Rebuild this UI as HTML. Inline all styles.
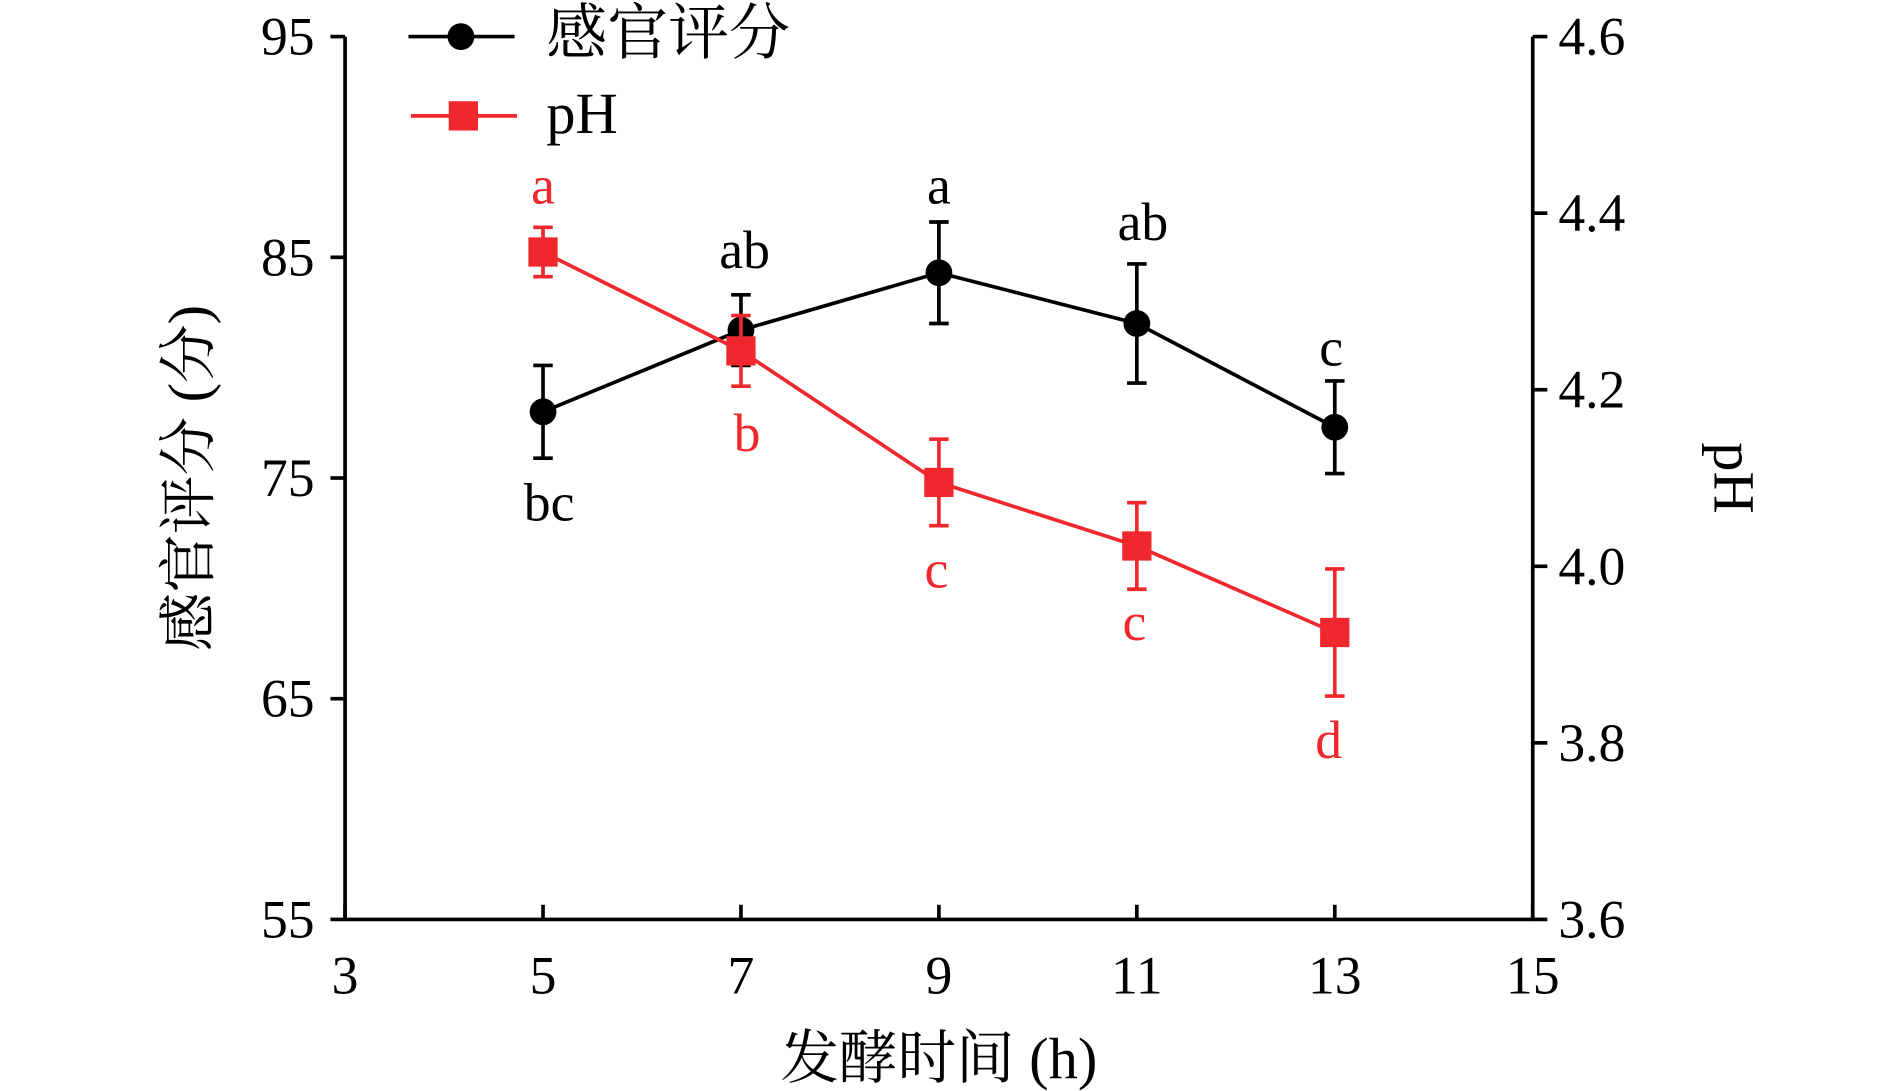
<!DOCTYPE html>
<html><head><meta charset="utf-8"><style>
html,body{margin:0;padding:0;background:#fff;}
svg{display:block;}
text{font-family:"Liberation Serif","Noto Serif CJK SC",serif;}
</style></head><body>
<svg id="chart" width="1890" height="1091" viewBox="0 0 1550 894.7" xmlns="http://www.w3.org/2000/svg"></svg>
<script>
const xCats=[5,7,9,11,13];
const sensory=[78.0,81.7,84.3,82.0,77.3];
const sensoryErr=[2.1,1.6,2.3,2.7,2.1];
const sensoryLetters=["bc","ab","a","ab","c"];
const phVals=[4.356,4.244,4.095,4.023,3.925];
const phErr=[0.028,0.04,0.049,0.049,0.072];
const phLetters=["a","b","c","c","d"];
const xTicks=[3,5,7,9,11,13,15];
const yLeftTicks=[55,65,75,85,95];
const yRightTicks=["3.6","3.8","4.0","4.2","4.4","4.6"];

const L=283,R=1257,T=30,B=754;
const X=v=>L+(v-3)/12*(R-L);
const YL=v=>B-(v-55)/40*(B-T);
const YR=v=>B-(v-3.6)/1.0*(B-T);
const svg=document.getElementById('chart');
const NS='http://www.w3.org/2000/svg';
function mk(tag,attrs,parent){const e=document.createElementNS(NS,tag);for(const k in attrs)e.setAttribute(k,attrs[k]);(parent||svg).appendChild(e);return e;}
function txt(s,x,y,size,fill,anchor,parent){const t=mk('text',{x:x,y:y,'font-size':size,fill:fill,'text-anchor':anchor||'middle','dominant-baseline':'central'},parent);t.textContent=s;return t;}

// axes
let e=mk('path',{d:`M${L},${T}V${B}H${R}V${T}`,fill:'none',stroke:'#000','stroke-width':3});

yLeftTicks.forEach(v=>{const y=YL(v);mk('line',{x1:L-12,x2:L,y1:y,y2:y,stroke:'#000','stroke-width':3});
 const t=txt(String(v),258,y,44,'#000','end');});
yRightTicks.forEach(v=>{const y=YR(parseFloat(v));mk('line',{x1:R,x2:R+12,y1:y,y2:y,stroke:'#000','stroke-width':3});
 const t=txt(v,1278,y,44,'#000','start');});
xTicks.forEach(v=>{const x=X(v);mk('line',{x1:x,x2:x,y1:B-12,y2:B,stroke:'#000','stroke-width':3});
 const t=txt(String(v),x,800,44,'#000');});

// titles
let t=txt('发酵时间 (h)',770,868,48,'#000');
t=txt('感官评分 (分)',0,0,48,'#000');t.setAttribute('transform','translate(155,392) rotate(-90)');
t=txt('pH',0,0,48,'#000');t.setAttribute('transform','translate(1422,392) rotate(90)');

// series
function series(vals,errs,Y,color,name,marker,letters,letterOff){
 const g=mk('g',{});
 const pts=vals.map((v,i)=>[X(xCats[i]),Y(v)]);
 const pl=mk('polyline',{points:pts.map(p=>p.join(',')).join(' '),fill:'none',stroke:color,'stroke-width':3},g);
 
 vals.forEach((v,i)=>{const x=pts[i][0];const y1=Y(v+errs[i]),y2=Y(v-errs[i]);
  const eb=mk('path',{d:`M${x},${y1}V${y2}M${x-8},${y1}H${x+8}M${x-8},${y2}H${x+8}`,stroke:color,'stroke-width':3,fill:'none'},g);
  
  let m;
  if(marker==='circle')m=mk('circle',{cx:x,cy:pts[i][1],r:11,fill:color},g);
  else m=mk('rect',{x:x-12,y:pts[i][1]-12,width:24,height:24,fill:color},g);
  
  const o=letterOff[i];
  const lt=txt(letters[i],x+(o[1]||0),(o[2]==='abs'?o[0]:pts[i][1]+o[0]),44,color,'middle',g);
  
 });
}
series(sensory,sensoryErr,YL,'#000','sensory','circle',sensoryLetters,[[412,5,'abs'],[205,3,'abs'],[152,0,'abs'],[182,5,'abs'],[285,-3,'abs']]);
series(phVals,phErr,YR,'#f0282d','ph','square',phLetters,[[152,0,'abs'],[355,5,'abs'],[467,-2,'abs'],[510,-2,'abs'],[607,-5,'abs']]);

// legend
const lg=mk('g',{});
let le=mk('g',{},lg);
mk('line',{x1:335,x2:422,y1:30,y2:30,stroke:'#000','stroke-width':3},le);
mk('circle',{cx:378,cy:30,r:11,fill:'#000'},le);
txt('感官评分',448,28,50,'#000','start',le);
le=mk('g',{},lg);
mk('line',{x1:337,x2:424,y1:95,y2:95,stroke:'#f0282d','stroke-width':3},le);
mk('rect',{x:368,y:83,width:24,height:24,fill:'#f0282d'},le);
txt('pH',448,93,48,'#000','start',le);
</script>
</body></html>
